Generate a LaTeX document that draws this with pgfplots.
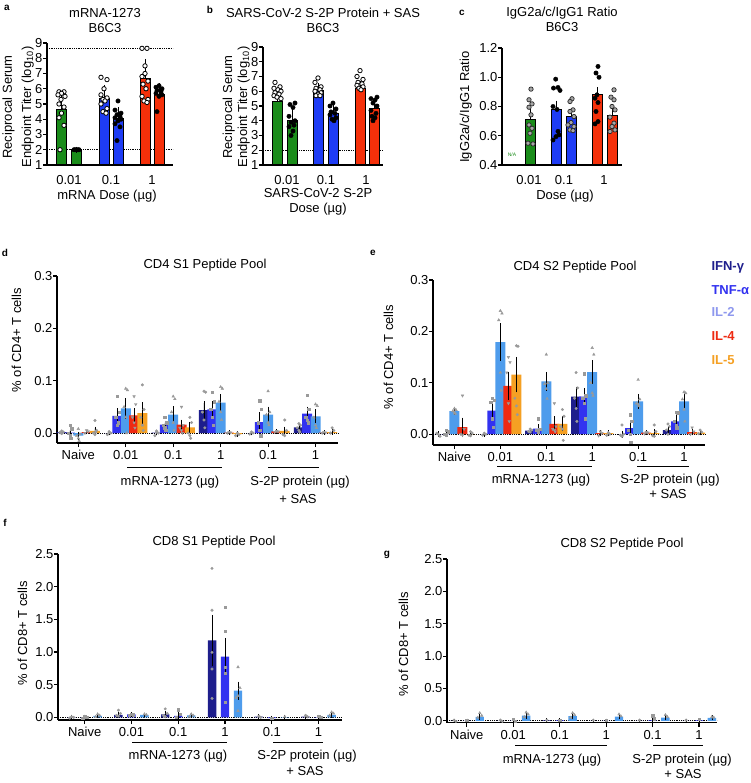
\documentclass[border=0pt]{standalone}
\usepackage{fontspec}
\setmainfont{Liberation Sans}
\usepackage{pgfplots}
\pgfplotsset{compat=1.18}
\newcommand\fs{\fontsize{13}{15}\selectfont}
\definecolor{cg}{HTML}{1A8C1A}
\definecolor{cb}{HTML}{1E3CF5}
\definecolor{cr}{HTML}{F5300A}
\definecolor{ifn}{HTML}{1E1E8C}
\definecolor{tnf}{HTML}{3232F0}
\definecolor{il2}{HTML}{4E9CEC}
\definecolor{il4}{HTML}{EE2A12}
\definecolor{il5}{HTML}{F5A023}
\definecolor{il2t}{HTML}{8E98EE}
\definecolor{ptg}{HTML}{9A9A9A}
\pgfplotsset{
  base/.style={scale only axis, anchor=south west, axis lines*=left,
    axis line style={line width=1.1pt}, tick style={black, line width=1.1pt},
    tick align=outside, major tick length=4pt,
    ticklabel style={font=\fs}, yticklabel style={xshift=3pt},
    /pgf/number format/assume math mode=true},
  topax/.style={base, xtick style={draw=none}, xticklabel style={yshift=-3pt}},
  botax/.style={base, clip=false, yticklabel style={/pgf/number format/fixed,
    /pgf/number format/fixed zerofill, /pgf/number format/precision=1}},
  tbar/.style={ybar, bar shift=0pt, draw=black, line width=1pt,
    /pgfplots/error bars/y dir=plus, /pgfplots/error bars/y explicit,
    /pgfplots/error bars/error bar style={line width=1pt, black},
    /pgfplots/error bars/error mark options={mark size=3pt, line width=1pt, black}},
  lbar/.style={ybar, bar shift=0pt, draw=none,
    /pgfplots/error bars/y dir=both, /pgfplots/error bars/y explicit,
    /pgfplots/error bars/error bar style={line width=0.7pt, black},
    /pgfplots/error bars/error mark options={mark size=1.8pt, line width=0.7pt, black}},
  opt/.style={only marks, mark=*, mark size=2.2pt, mark options={fill=white, draw=black, line width=0.8pt}, forget plot},
  fpt/.style={only marks, mark=*, mark size=2.2pt, mark options={fill=black, draw=black}, forget plot},
  gpt/.style={only marks, mark=*, mark size=2.2pt, mark options={fill=black!35, draw=black!85, line width=0.7pt}, forget plot},
  zl/.style={black, densely dotted, line width=0.8pt, forget plot},
  p1/.style={only marks, mark=*, mark size=1.3pt, color=ptg, forget plot},
  p2/.style={only marks, mark=square*, mark size=1.2pt, color=ptg, forget plot},
  p3/.style={only marks, mark=triangle*, mark size=1.5pt, color=ptg, forget plot},
  p4/.style={only marks, mark=triangle*, mark size=1.5pt, color=ptg, mark options={rotate=180}, forget plot},
}
\begin{document}
\begin{tikzpicture}[x=1pt,y=1pt]
\path[use as bounding box, fill=white] (0,0) rectangle (750,-783);

% ---------------- panel a ----------------
\begin{axis}[topax, at={(47pt,-165pt)}, width=126pt, height=122pt,
  xmin=0, xmax=126, ymin=1, ymax=9, ytick={1,2,...,9},
  xtick={22,64,105}, xticklabels={0.01,0.1,1}]
\addplot[zl] coordinates {(0,2) (126,2)};
\addplot[zl] coordinates {(0,8.65) (126,8.65)};
\addplot[tbar, fill=cg] coordinates {(14.5,4.65) +- (0,0.75)};
\addplot[tbar, fill=cg] coordinates {(29.5,2.0) +- (0,0)};
\addplot[tbar, fill=cb] coordinates {(57,5.35) +- (0,0.7)};
\addplot[tbar, fill=cb] coordinates {(71,4.05) +- (0,0.55)};
\addplot[tbar, fill=cr] coordinates {(98,6.7) +- (0,1.07)};
\addplot[tbar, fill=cr] coordinates {(112,5.65) +- (0,0.5)};
\addplot[opt] coordinates {(12,5.8)(17,5.8)(14.5,5.7)(11,5.6)(18,5.5)(14,5.3)(12,5.0)(17,4.8)(14.5,4.4)(12,4.1)(17,3.6)(13,2.0)};
\addplot[fpt] coordinates {(27,2)(29.5,2)(32,2)(28,2)(31,2)};
\addplot[opt] coordinates {(54,6.75)(60,6.6)(57,6.0)(54,5.6)(60,5.4)(56,5.3)(58,5.2)(54,5.0)(60,4.7)(56,4.5)(59,4.4)};
\addplot[fpt] coordinates {(71,5.2)(68,4.6)(74,4.4)(70,4.3)(73,4.2)(68,4.1)(74,4.0)(71,3.9)(68,3.7)(73,3.5)(70,2.6)};
\addplot[opt] coordinates {(95,8.65)(100,8.65)(98,7.5)(98,7.0)(95,6.8)(101,6.5)(96,6.3)(99,6.0)(95,5.5)(101,5.3)(97,5.2)(100,5.1)};
\addplot[fpt] coordinates {(112,6.2)(109,6.1)(115,6.0)(110,5.9)(114,5.8)(109,5.7)(115,5.6)(112,5.5)(110,4.5)};
\end{axis}

% ---------------- panel b ----------------
\begin{axis}[topax, at={(263pt,-165pt)}, width=120pt, height=118pt,
  xmin=0, xmax=120, ymin=1, ymax=9, ytick={1,2,...,9},
  xtick={24,63,103}, xticklabels={0.01,0.1,1}]
\addplot[zl] coordinates {(0,2) (120,2)};
\addplot[tbar, fill=cg] coordinates {(14.5,5.3) +- (0,0.4)};
\addplot[tbar, fill=cg] coordinates {(29,4.05) +- (0,0.75)};
\addplot[tbar, fill=cb] coordinates {(55,6.05) +- (0,0.3)};
\addplot[tbar, fill=cb] coordinates {(70,4.5) +- (0,0.4)};
\addplot[tbar, fill=cr] coordinates {(97,6.2) +- (0,0.3)};
\addplot[tbar, fill=cr] coordinates {(111,4.8) +- (0,0.5)};
\addplot[opt] coordinates {(12,6.6)(17,6.3)(11,6.2)(15,6.1)(18,6.0)(12,5.9)(16,5.8)(11,5.7)(14,5.6)(18,5.5)};
\addplot[fpt] coordinates {(32,5.2)(27,5.1)(30,4.9)(26,4.3)(32,4.0)(28,3.9)(31,3.7)(26,3.6)(30,3.3)(28,3.0)};
\addplot[opt] coordinates {(55,6.9)(52,6.6)(58,6.3)(53,6.2)(57,6.1)(52,6.0)(58,5.9)(55,5.8)(53,5.7)(57,5.7)};
\addplot[fpt] coordinates {(70,5.2)(67,5.0)(73,4.8)(68,4.6)(72,4.5)(67,4.4)(73,4.2)(69,4.1)(71,4.0)};
\addplot[opt] coordinates {(97,7.4)(94,7.0)(100,6.8)(95,6.6)(99,6.5)(94,6.4)(100,6.3)(96,6.2)(98,6.1)};
\addplot[fpt] coordinates {(114,5.6)(108,5.5)(112,5.4)(110,5.2)(114,5.0)(108,4.7)(113,4.5)(109,4.3)(112,4.2)(110,4.0)};
\end{axis}

% ---------------- panel c ----------------
\begin{axis}[topax, at={(502pt,-165pt)}, width=120pt, height=117pt,
  xmin=0, xmax=120, ymin=0.4, ymax=1.2, ytick={0.4,0.6,0.8,1.0,1.2},
  yticklabel style={/pgf/number format/fixed, /pgf/number format/fixed zerofill, /pgf/number format/precision=1},
  xtick={27,62,102}, xticklabels={0.01,0.1,1}]
\addplot[tbar, fill=cg] coordinates {(28.5,0.71) +- (0,0.05)};
\addplot[tbar, fill=cb] coordinates {(54.5,0.78) +- (0,0.04)};
\addplot[tbar, fill=cb] coordinates {(69.5,0.73) +- (0,0.03)};
\addplot[tbar, fill=cr] coordinates {(95.5,0.88) +- (0,0.03)};
\addplot[tbar, fill=cr] coordinates {(110.5,0.74) +- (0,0.03)};
\addplot[gpt] coordinates {(29,0.919)(27,0.846)(30,0.818)(27,0.795)(29,0.743)(27,0.674)(30,0.651)(28,0.617)(26,0.549)(31,0.544)};
\addplot[fpt] coordinates {(53.7,0.987)(51.5,0.926)(56,0.93)(58,0.91)(51,0.80)(55,0.78)(56,0.63)(57,0.606)(54,0.594)(51,0.571)};
\addplot[gpt] coordinates {(70,0.853)(68,0.834)(71,0.777)(68,0.766)(72,0.731)(69,0.69)(66,0.674)(72,0.663)(68,0.64)(71,0.635)};
\addplot[fpt] coordinates {(96,1.074)(94,1.029)(97,1.0)(95,0.88)(93,0.857)(96,0.827)(94,0.766)(96,0.697)(93,0.681)};
\addplot[gpt] coordinates {(112,0.914)(109,0.864)(112,0.846)(110,0.8)(113,0.777)(108,0.727)(112,0.686)(110,0.663)(113,0.64)(108,0.629)};
\end{axis}
\node[font=\fontsize{5}{6}\selectfont, text=cg] at (512,-155) {N/A};

% top texts
\node[font=\bfseries\fontsize{10}{12}\selectfont] at (7,-8) {a};
\node[font=\bfseries\fontsize{10}{12}\selectfont] at (210,-10) {b};
\node[font=\bfseries\fontsize{10}{12}\selectfont] at (462,-13) {c};
\node[font=\fs, anchor=base] at (105,-18) {mRNA-1273};
\node[font=\fs, anchor=base] at (105,-33) {B6C3};
\node[font=\fs, anchor=base] at (323,-18) {SARS-CoV-2 S-2P Protein + SAS};
\node[font=\fs, anchor=base] at (323,-33) {B6C3};
\node[font=\fs, anchor=base] at (562,-17) {IgG2a/c/IgG1 Ratio};
\node[font=\fs, anchor=base] at (562,-32) {B6C3};
\node[font=\fs, anchor=base, rotate=90] at (12,-107) {Reciprocal Serum};
\node[font=\fs, anchor=base, rotate=90] at (31,-107) {Endpoint Titer (log\textsubscript{10})};
\node[font=\fs, anchor=base, rotate=90] at (232,-107) {Reciprocal Serum};
\node[font=\fs, anchor=base, rotate=90] at (247,-107) {Endpoint Titer (log\textsubscript{10})};
\node[font=\fs, anchor=base, rotate=90] at (469,-107) {IgG2a/c/IgG1 Ratio};
\node[font=\fs, anchor=base] at (107,-200) {mRNA Dose (µg)};
\node[font=\fs, anchor=base] at (318,-198) {SARS-CoV-2 S-2P};
\node[font=\fs, anchor=base] at (318,-213) {Dose (µg)};
\node[font=\fs, anchor=base] at (565,-200) {Dose (µg)};

% ---------------- panel d ----------------
\begin{axis}[botax, at={(57pt,-443pt)}, width=281pt, height=167pt,
  xmin=-0.56, xmax=33.2, ymin=-0.019, ymax=0.3, ytick={0,0.1,0.2,0.3},
  xtick={2,7.7,13.4,19.1,24.8,30.5}, xticklabels={Naive,0.01,0.1,1,0.1,1}]
\addplot[zl] coordinates {(-0.56,0) (33.2,0)};
\addplot[lbar, fill=ifn] coordinates {(0,0.002) +- (0,0.001) (5.7,0.0) +- (0,0.001) (11.4,0.001) +- (0,0.002) (17.1,0.044) +- (0,0.013) (22.8,0.0) +- (0,0.001) (28.5,0.011) +- (0,0.004)};
\addplot[lbar, fill=tnf] coordinates {(1,0.001) +- (0,0.004) (6.7,0.033) +- (0,0.011) (12.4,0.016) +- (0,0.004) (18.1,0.045) +- (0,0.012) (23.8,0.021) +- (0,0.015) (29.5,0.037) +- (0,0.01)};
\addplot[lbar, fill=il2] coordinates {(2,-0.005) +- (0,0.004) (7.7,0.047) +- (0,0.016) (13.4,0.035) +- (0,0.013) (19.1,0.058) +- (0,0.013) (24.8,0.035) +- (0,0.012) (30.5,0.032) +- (0,0.01)};
\addplot[lbar, fill=il4] coordinates {(3,0.002) +- (0,0.001) (8.7,0.034) +- (0,0.01) (14.4,0.016) +- (0,0.006) (20.1,0.001) +- (0,0.001) (25.8,0.003) +- (0,0.001) (31.5,0.001) +- (0,0.001)};
\addplot[lbar, fill=il5] coordinates {(4,0.004) +- (0,0.005) (9.7,0.038) +- (0,0.017) (15.4,0.011) +- (0,0.007) (21.1,-0.002) +- (0,0.002) (26.8,0.004) +- (0,0.005) (32.5,0.002) +- (0,0.002)};
\addplot[p1] coordinates {(0,0.004)(0.2,0.002)(-0.2,0.001)(0,-0.001)(5.7,0.003)(5.9,0.0)(5.5,-0.003)(5.7,0.001)(11.4,0.004)(11.6,0.0)(11.2,-0.005)(11.4,0.002)(17.1,0.08)(17.3,0.078)(16.9,0.04)(17.1,0.025)(17.2,0.01)(22.8,0.002)(23.0,0.0)(22.6,-0.002)(28.5,0.018)(28.7,0.015)(28.3,0.01)(28.5,0.005)(28.6,0.002)};
\addplot[p2] coordinates {(1,0.015)(1.2,0.008)(0.8,0.0)(1,-0.005)(1.1,-0.01)(6.7,0.07)(6.9,0.04)(6.5,0.03)(6.7,0.015)(6.8,0.02)(12.4,0.03)(12.6,0.02)(12.2,0.015)(12.4,0.01)(12.5,0.005)(18.1,0.078)(18.3,0.06)(17.9,0.045)(18.1,0.03)(18.2,0.015)(23.8,0.062)(24.0,0.045)(23.6,0.02)(23.8,0.005)(23.9,-0.005)(29.5,0.072)(29.7,0.045)(29.3,0.03)(29.5,0.025)(29.6,0.02)};
\addplot[p3] coordinates {(2,0.008)(2.2,-0.002)(1.8,-0.005)(2,-0.01)(2.1,-0.015)(7.7,0.085)(7.9,0.082)(7.5,0.05)(7.7,0.03)(7.8,0.0)(13.4,0.07)(13.6,0.065)(13.2,0.04)(13.4,0.02)(13.5,0.005)(19.1,0.088)(19.3,0.085)(18.9,0.06)(19.1,0.04)(19.2,0.025)(24.8,0.08)(25.0,0.04)(24.6,0.035)(24.8,0.02)(24.9,0.015)(30.5,0.055)(30.7,0.052)(30.3,0.03)(30.5,0.015)(30.6,0.01)};
\addplot[p4] coordinates {(3,0.005)(3.2,0.003)(2.8,0.0)(8.7,0.07)(8.9,0.055)(8.5,0.03)(8.7,0.02)(8.8,0.01)(14.4,0.05)(14.6,0.015)(14.2,0.01)(14.4,0.005)(14.5,0.0)(20.1,0.002)(20.3,0.001)(19.9,0.0)(25.8,0.004)(26.0,0.003)(25.6,0.002)(31.5,0.002)(31.7,0.001)(31.3,0.0)};
\addplot[p1] coordinates {(4,0.024)(4.2,0.005)(3.8,0.0)(4,-0.003)(4.1,0.002)(9.7,0.092)(9.9,0.045)(9.5,0.03)(9.7,0.015)(9.8,0.005)(15.4,0.03)(15.6,0.02)(15.2,0.0)(15.4,-0.005)(15.5,-0.01)(21.1,0.0)(21.3,-0.003)(20.9,-0.005)(26.8,0.025)(27.0,0.005)(26.6,-0.003)(26.8,-0.005)(32.5,0.01)(32.7,0.005)(32.3,0.0)};
\end{axis}

% ---------------- panel e ----------------
\begin{axis}[botax, at={(433pt,-445pt)}, width=272pt, height=165pt,
  xmin=-0.66, xmax=33.1, ymin=-0.021, ymax=0.3, ytick={0,0.1,0.2,0.3},
  xtick={2,7.7,13.4,19.1,24.8,30.5}, xticklabels={Naive,0.01,0.1,1,0.1,1}]
\addplot[zl] coordinates {(-0.66,0) (33.1,0)};
\addplot[lbar, fill=ifn] coordinates {(0,0.0) +- (0,0.002) (5.7,0.0) +- (0,0.001) (11.4,0.007) +- (0,0.002) (17.1,0.073) +- (0,0.016) (22.8,0.0) +- (0,0.003) (28.5,0.008) +- (0,0.004)};
\addplot[lbar, fill=tnf] coordinates {(1,0.0) +- (0,0.002) (6.7,0.046) +- (0,0.011) (12.4,0.011) +- (0,0.005) (18.1,0.073) +- (0,0.013) (23.8,0.012) +- (0,0.01) (29.5,0.025) +- (0,0.008)};
\addplot[lbar, fill=il2] coordinates {(2,0.045) +- (0,0.004) (7.7,0.179) +- (0,0.033) (13.4,0.103) +- (0,0.015) (19.1,0.121) +- (0,0.019) (24.8,0.064) +- (0,0.011) (30.5,0.064) +- (0,0.01)};
\addplot[lbar, fill=il4] coordinates {(3,0.014) +- (0,0.015) (8.7,0.094) +- (0,0.024) (14.4,0.02) +- (0,0.011) (20.1,0.002) +- (0,0.002) (25.8,0.003) +- (0,0.001) (31.5,0.004) +- (0,0.003)};
\addplot[lbar, fill=il5] coordinates {(4,0.0) +- (0,0.002) (9.7,0.116) +- (0,0.031) (15.4,0.02) +- (0,0.011) (21.1,0.002) +- (0,0.002) (26.8,0.002) +- (0,0.004) (32.5,0.003) +- (0,0.002)};
\addplot[p1] coordinates {(0,0.0)(0.2,-0.004)(-0.2,0.002)(5.7,0.002)(5.9,0.0)(5.5,-0.002)(11.4,0.01)(11.6,0.008)(11.2,0.005)(11.4,0.004)(17.1,0.12)(17.3,0.09)(16.9,0.07)(17.1,0.05)(17.2,0.025)(22.8,0.018)(23.0,0.0)(22.6,-0.002)(22.8,-0.004)(28.5,0.02)(28.7,0.015)(28.3,0.008)(28.5,0.0)};
\addplot[p2] coordinates {(1,0.008)(1.2,0.005)(0.8,0.0)(1,-0.002)(6.7,0.07)(6.9,0.066)(6.5,0.062)(6.7,0.03)(6.8,0.014)(12.4,0.03)(12.6,0.01)(12.2,0.008)(12.4,0.005)(18.1,0.118)(18.3,0.075)(17.9,0.07)(18.1,0.06)(18.2,0.03)(23.8,0.038)(24.0,0.025)(23.6,0.008)(23.8,0.0)(23.9,-0.016)(29.5,0.043)(29.7,0.042)(29.3,0.025)(29.5,0.018)(29.6,0.013)};
\addplot[p3] coordinates {(2,0.05)(2.2,0.047)(1.8,0.045)(2,0.042)(2.1,0.04)(7.7,0.24)(7.9,0.235)(7.5,0.222)(7.7,0.12)(7.8,0.085)(13.4,0.155)(13.6,0.1)(13.2,0.098)(13.4,0.088)(13.5,0.069)(19.1,0.168)(19.3,0.155)(18.9,0.1)(19.1,0.08)(19.2,0.075)(24.8,0.106)(25.0,0.068)(24.6,0.06)(24.8,0.058)(24.9,0.055)(30.5,0.082)(30.7,0.08)(30.3,0.068)(30.5,0.048)(30.6,0.025)};
\addplot[p4] coordinates {(3,0.075)(3.2,0.01)(2.8,0.0)(3,-0.002)(8.7,0.15)(8.9,0.14)(8.5,0.12)(8.7,0.06)(8.8,0.025)(14.4,0.06)(14.6,0.015)(14.2,0.01)(14.4,0.008)(14.5,0.005)(20.1,0.005)(20.3,0.002)(19.9,-0.003)(25.8,0.004)(26.0,0.003)(25.6,0.001)(31.5,0.013)(31.7,0.005)(31.3,0.0)};
\addplot[p1] coordinates {(4,0.005)(4.2,0.002)(3.8,-0.002)(4,-0.003)(9.7,0.172)(9.9,0.171)(9.5,0.07)(9.7,0.055)(9.8,0.038)(15.4,0.048)(15.6,0.035)(15.2,0.015)(15.4,0.01)(15.5,-0.012)(21.1,0.003)(21.3,0.0)(20.9,-0.002)(26.8,0.018)(27.0,0.005)(26.6,-0.003)(26.8,-0.004)(32.5,0.008)(32.7,0.004)(32.3,0.001)};
\end{axis}

% ---------------- panel f ----------------
\begin{axis}[botax, at={(58pt,-720pt)}, width=284pt, height=166pt,
  xmin=-1.05, xmax=20.8, ymin=-0.04, ymax=2.5, ytick={0,0.5,1,1.5,2,2.5},
  xtick={1,4.6,8.2,11.8,15.4,19}, xticklabels={Naive,0.01,0.1,1,0.1,1}]
\addplot[zl] coordinates {(-1.05,0) (20.8,0)};
\addplot[lbar, bar width=0.65, fill=ifn] coordinates {(0,0.005) +- (0,0.01) (3.6,0.04) +- (0,0.015) (7.2,0.045) +- (0,0.02) (10.8,1.18) +- (0,0.36) (14.4,0.01) +- (0,0.01) (18,0.01) +- (0,0.01)};
\addplot[lbar, bar width=0.65, fill=tnf] coordinates {(1,0.005) +- (0,0.01) (4.6,0.045) +- (0,0.01) (8.2,0.025) +- (0,0.03) (11.8,0.93) +- (0,0.26) (15.4,-0.01) +- (0,0.005) (19,0.005) +- (0,0.005)};
\addplot[lbar, bar width=0.65, fill=il2] coordinates {(2,0.025) +- (0,0.01) (5.6,0.04) +- (0,0.005) (9.2,0.03) +- (0,0.01) (12.8,0.41) +- (0,0.11) (16.4,0.005) +- (0,0.005) (20,0.04) +- (0,0.02)};
\addplot[p1] coordinates {(0,0.01)(0.15,0.0)(-0.15,-0.01)(3.6,0.11)(3.75,0.06)(3.45,0.03)(3.6,0.02)(7.2,0.13)(7.35,0.06)(7.05,0.03)(7.2,0.01)(10.8,2.28)(10.8,1.64)(10.8,0.995)(10.8,0.74)(10.8,0.29)(14.4,0.02)(14.55,0.0)(18,0.03)(18.15,0.01)};
\addplot[p2] coordinates {(1,0.02)(1.15,0.0)(0.85,-0.01)(4.6,0.05)(4.75,0.04)(4.45,0.03)(8.2,0.12)(8.35,0.05)(8.05,0.0)(11.8,1.69)(11.8,1.32)(11.8,0.77)(11.8,0.68)(11.8,0.23)(15.4,-0.01)(19,0.02)(19.15,0.0)};
\addplot[p3] coordinates {(2,0.05)(2.15,0.03)(1.85,0.01)(5.6,0.05)(5.75,0.04)(9.2,0.05)(9.35,0.03)(9.05,0.01)(12.8,0.77)(12.8,0.33)(12.65,0.3)(12.95,0.45)(12.8,0.1)(16.4,0.01)(20,0.08)(20.15,0.06)(19.85,0.03)};
\end{axis}

% ---------------- panel g ----------------
\begin{axis}[botax, at={(447pt,-722.7pt)}, width=270pt, height=163.7pt,
  xmin=-0.54, xmax=20.4, ymin=-0.03, ymax=2.5, ytick={0,0.5,1,1.5,2,2.5},
  xtick={1,4.6,8.2,11.8,15.4,19}, xticklabels={Naive,0.01,0.1,1,0.1,1}]
\addplot[zl] coordinates {(-0.54,0) (20.4,0)};
\addplot[lbar, bar width=0.65, fill=ifn] coordinates {(0,0.0) +- (0,0.005) (3.6,0.0) +- (0,0.005) (7.2,0.005) +- (0,0.005) (10.8,0.0) +- (0,0.005) (14.4,0.0) +- (0,0.005) (18,0.0) +- (0,0.005)};
\addplot[lbar, bar width=0.65, fill=tnf] coordinates {(1,0.0) +- (0,0.005) (4.6,0.0) +- (0,0.01) (8.2,0.005) +- (0,0.005) (11.8,0.0) +- (0,0.005) (15.4,0.005) +- (0,0.02) (19,0.005) +- (0,0.005)};
\addplot[lbar, bar width=0.65, fill=il2] coordinates {(2,0.06) +- (0,0.02) (5.6,0.08) +- (0,0.02) (9.2,0.07) +- (0,0.02) (12.8,0.065) +- (0,0.015) (16.4,0.05) +- (0,0.015) (20,0.045) +- (0,0.01)};
\addplot[p1] coordinates {(0,0.01)(0.15,-0.01)(3.6,0.01)(3.75,-0.01)(7.2,0.01)(10.8,0.01)(14.4,0.01)(18,0.01)};
\addplot[p2] coordinates {(1,0.01)(4.6,0.02)(4.75,-0.01)(8.2,0.01)(11.8,0.01)(15.4,0.08)(15.55,0.03)(19,0.02)};
\addplot[p3] coordinates {(2,0.12)(2.15,0.08)(1.85,0.05)(5.6,0.13)(5.75,0.1)(5.45,0.06)(9.2,0.12)(9.35,0.09)(9.05,0.05)(12.8,0.1)(12.95,0.07)(16.4,0.09)(16.55,0.06)(20,0.06)(20.15,0.05)};
\end{axis}

% lower texts
\node[font=\bfseries\fontsize{10}{12}\selectfont] at (5,-253) {d};
\node[font=\bfseries\fontsize{10}{12}\selectfont] at (373,-253) {e};
\node[font=\bfseries\fontsize{10}{12}\selectfont] at (5,-523) {f};
\node[font=\bfseries\fontsize{10}{12}\selectfont] at (387,-555) {g};
\node[font=\fs, anchor=base] at (205,-269) {CD4 S1 Peptide Pool};
\node[font=\fs, anchor=base] at (575,-270) {CD4 S2 Peptide Pool};
\node[font=\fs, anchor=base] at (214,-545) {CD8 S1 Peptide Pool};
\node[font=\fs, anchor=base] at (622,-547) {CD8 S2 Peptide Pool};
\node[font=\fs, anchor=base, rotate=90] at (21,-340) {\% of CD4+ T cells};
\node[font=\fs, anchor=base, rotate=90] at (393,-357) {\% of CD4+ T cells};
\node[font=\fs, anchor=base, rotate=90] at (27,-633) {\% of CD8+ T cells};
\node[font=\fs, anchor=base, rotate=90] at (408,-644) {\% of CD8+ T cells};
% group underlines and labels
\begin{scope}[line width=1pt]
\draw (127,-467) -- (222,-467); \draw (268,-467) -- (319,-467);
\draw (497,-466) -- (592,-466); \draw (637,-466) -- (689,-466);
\draw (132,-742) -- (227,-742); \draw (273,-742) -- (323,-742);
\draw (515,-745) -- (607,-745); \draw (653,-745) -- (703,-745);
\end{scope}
\node[font=\fs, anchor=base] at (170,-485) {mRNA-1273 (µg)};
\node[font=\fs, anchor=base] at (300,-485) {S-2P protein (µg)};
\node[font=\fs, anchor=base] at (298,-503) {+ SAS};
\node[font=\fs, anchor=base] at (541,-483) {mRNA-1273 (µg)};
\node[font=\fs, anchor=base] at (670,-483) {S-2P protein (µg)};
\node[font=\fs, anchor=base] at (668,-498) {+ SAS};
\node[font=\fs, anchor=base] at (178,-759) {mRNA-1273 (µg)};
\node[font=\fs, anchor=base] at (307,-759) {S-2P protein (µg)};
\node[font=\fs, anchor=base] at (305,-775) {+ SAS};
\node[font=\fs, anchor=base] at (552,-763) {mRNA-1273 (µg)};
\node[font=\fs, anchor=base] at (682,-763) {S-2P protein (µg)};
\node[font=\fs, anchor=base] at (683,-778) {+ SAS};
% legend of e
\node[font=\bfseries\fs, text=ifn, anchor=base west] at (708,-270) {IFN-γ};
\node[font=\bfseries\fs, text=tnf, anchor=base west] at (708,-294) {TNF-α};
\node[font=\bfseries\fs, text=il2t, anchor=base west] at (708,-316) {IL-2};
\node[font=\bfseries\fs, text=il4, anchor=base west] at (708,-340) {IL-4};
\node[font=\bfseries\fs, text=il5, anchor=base west] at (708,-364) {IL-5};
\end{tikzpicture}
\end{document}
